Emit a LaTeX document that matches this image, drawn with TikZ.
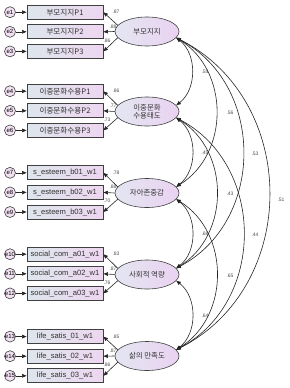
\documentclass[tikz,border=0pt]{standalone}
\usepackage{fontspec}
\setmainfont{Liberation Sans}
\newfontfamily\kr{Noto Sans CJK KR}
\usetikzlibrary{arrows.meta,shapes.geometric}
\definecolor{boxl}{HTML}{DDE6EC}
\definecolor{boxr}{HTML}{EED6F0}
\definecolor{ell}{HTML}{E3E6F1}
\definecolor{elr}{HTML}{EAD2F1}
\definecolor{errc}{HTML}{F1E1F2}
\tikzset{
 obs/.style={draw=black!75, line width=0.8pt, left color=boxl, right color=boxr,
   minimum width=76pt, minimum height=14pt, inner sep=0pt,
   font=\fontsize{7.6}{8}\selectfont, text=black!80},
 lat/.style={ellipse, draw=black!75, line width=0.6pt, left color=ell, right color=elr,
   minimum width=64pt, minimum height=29pt, inner sep=0pt,
   font=\kr\fontsize{7.4}{8.6}\selectfont, text=black!80, align=center},
 err/.style={circle, draw=black!75, line width=0.6pt, fill=errc, minimum size=11pt,
   inner sep=0pt, font=\fontsize{6}{6}\selectfont},
 ld/.style={font=\fontsize{5}{5}\selectfont, text=black!70, inner sep=0pt},
 arr/.style={-{Triangle[length=4.5pt,width=3.6pt]}, line width=0.6pt, draw=black!85},
 cov/.style={{Triangle[length=4.5pt,width=3.6pt]}-{Triangle[length=4.5pt,width=3.6pt]},
   line width=0.6pt, draw=black!85},
}
\begin{document}
\begin{tikzpicture}[x=1pt,y=-1pt]
\useasboundingbox (0,0) rectangle (289,388);
% latent factors
\node[lat] (f1) at (147,31.5) {부모지지};
\node[lat] (f2) at (147,111.5) {이중문화\\[-1pt]수용태도};
\node[lat] (f3) at (147,193) {자아존중감};
\node[lat] (f4) at (147,274.5) {사회적 역량};
\node[lat] (f5) at (147,356) {삶의 만족도};
% indicators
\foreach \g/\m/\ta/\tb/\tc/\la/\lb/\lc in {
 1/31.8/{\kr 부모지지P1}/{\kr 부모지지P2}/{\kr 부모지지P3}/.87/.88/.86,
 2/110.8/{\kr 이중문화수용P1}/{\kr 이중문화수용P2}/{\kr 이중문화수용P3}/.86/.77/.73,
 3/192.4/{s\_esteem\_b01\_w1}/{s\_esteem\_b02\_w1}/{s\_esteem\_b03\_w1}/.78/.88/.70,
 4/273.8/{social\_com\_a01\_w1}/{social\_com\_a02\_w1}/{social\_com\_a03\_w1}/.83/.87/.76,
 5/356.2/{life\_satis\_01\_w1}/{life\_satis\_02\_w1}/{life\_satis\_03\_w1}/.85/.87/.86}
{
 \pgfmathtruncatemacro{\ea}{3*\g-2}
 \pgfmathtruncatemacro{\eb}{3*\g-1}
 \pgfmathtruncatemacro{\ec}{3*\g}
 \node[obs] (r\g a) at (65,\m-19.6) {\ta};
 \node[obs] (r\g b) at (65,\m) {\tb};
 \node[obs] (r\g c) at (65,\m+19.6) {\tc};
 \node[err] (e\g a) at (10,\m-19.6) {e\ea};
 \node[err] (e\g b) at (10,\m) {e\eb};
 \node[err] (e\g c) at (10,\m+19.6) {e\ec};
 \draw[arr] (e\g a) -- (r\g a);
 \draw[arr] (e\g b) -- (r\g b);
 \draw[arr] (e\g c) -- (r\g c);
 \draw[arr] (f\g.168) -- (r\g a.east);
 \draw[arr] (f\g.west) -- (r\g b.east);
 \draw[arr] (f\g.192) -- (r\g c.east);
 \node[ld] (la\g) at (116,\m-19.6) {\la};
 \node[ld] (lb\g) at (113,\m-5.5) {\lb};
 \node[ld] (lc\g) at (107,\m+8.5) {\lc};
}
% covariances
\foreach \i/\j/\b/\lo in {
 1/2/52/1, 2/3/52/1, 3/4/52/1, 4/5/52/1,
 1/3/58/1.08, 2/4/58/1.08, 3/5/58/1.08,
 1/4/62/1.12, 2/5/62/1.12,
 1/5/63/1.14}
{
 \draw[cov] (f\i.-12) to[bend left=\b, looseness=\lo] (f\j.12);
}
\foreach \i/\j/\x/\y/\v in {
 1/2/205/72/.55, 2/3/205/153/.45, 3/4/205/234/.68, 4/5/205/316/.64,
 1/3/230/113/.56, 2/4/230/194/.43, 3/5/230/276/.65,
 1/4/255/154/.53, 2/5/255/235/.44,
 1/5/281/200/.51}
{
 \node[ld] (cl\i\j) at (\x,\y) {\v};
}
\end{tikzpicture}
\end{document}
